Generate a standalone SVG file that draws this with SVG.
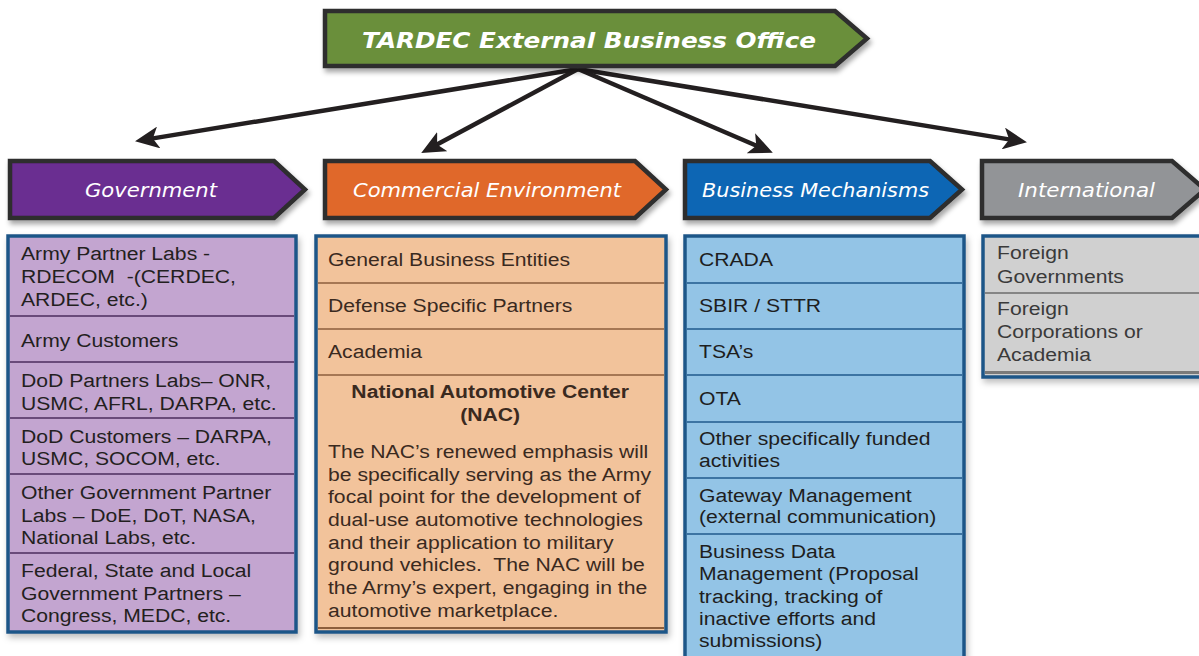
<svg xmlns="http://www.w3.org/2000/svg" width="1199" height="656" viewBox="0 0 1199 656">
<defs>
<filter id="sh" x="-10%" y="-20%" width="130%" height="150%">
<feDropShadow dx="2" dy="4" stdDeviation="2.5" flood-color="#000" flood-opacity="0.35"/>
</filter>
<filter id="sh2" x="-10%" y="-10%" width="130%" height="130%">
<feDropShadow dx="2" dy="4" stdDeviation="3" flood-color="#000" flood-opacity="0.25"/>
</filter>
<marker id="ah" markerUnits="userSpaceOnUse" markerWidth="24" markerHeight="22" refX="12" refY="11" orient="auto">
<path d="M0,0 L24,11 L0,22 L6,11 z" fill="#231f20"/>
</marker>
</defs>
<style>
.ban{stroke:#2d2d2d;stroke-width:4.5;stroke-linejoin:miter}
.bt{font-family:"DejaVu Sans",Verdana,sans-serif;font-style:italic;font-size:19px;fill:#fff}
.tt{font-family:"DejaVu Sans",Verdana,sans-serif;font-style:italic;font-weight:bold;font-size:22px;fill:#fff}
.box{stroke:#1f5788;stroke-width:3.5}
.lt{font-family:"Liberation Sans",Arial,sans-serif;font-size:18px}
.b{font-weight:bold}
.conn{stroke:#231f20;stroke-width:4.5;fill:none;marker-end:url(#ah)}
</style>

<g id="connectors">
<line class="conn" x1="578" y1="69" x2="146.9" y2="139.4"/>
<line class="conn" x1="578" y1="69" x2="431.8" y2="147.3"/>
<line class="conn" x1="578" y1="69" x2="761.8" y2="148"/>
<line class="conn" x1="578" y1="69" x2="1015.1" y2="140.4"/>
</g>

<g id="title">
<polygon class="ban" filter="url(#sh)" fill="#6a8f3b" points="325,11 835,11 867,38.5 835,66 325,66"/>
<text class="tt" x="362" y="48" textLength="454" lengthAdjust="spacingAndGlyphs">TARDEC External Business Office</text>
</g>

<g id="government">
<polygon class="ban" filter="url(#sh)" fill="#6a2d91" points="10,161 274,161 305,189.5 274,218 10,218"/>
<text class="bt" x="85" y="197" textLength="132" lengthAdjust="spacingAndGlyphs">Government</text>
<rect class="box" filter="url(#sh2)" fill="#c3a5d0" x="8" y="236" width="288" height="396"/>
<g stroke="#4b2d5e" stroke-width="1.5">
<line x1="10" y1="316" x2="294" y2="316"/>
<line x1="10" y1="362" x2="294" y2="362"/>
<line x1="10" y1="418" x2="294" y2="418"/>
<line x1="10" y1="474" x2="294" y2="474"/>
<line x1="10" y1="553" x2="294" y2="553"/>
</g>
<g class="lt" fill="#231f20" transform="translate(21,0) scale(1.175,1)">
<text x="0" y="260">Army Partner Labs -</text>
<text x="0" y="283" xml:space="preserve">RDECOM  -(CERDEC,</text>
<text x="0" y="306">ARDEC, etc.)</text>
<text x="0" y="347">Army Customers</text>
<text x="0" y="387">DoD Partners Labs– ONR,</text>
<text x="0" y="410">USMC, AFRL, DARPA, etc.</text>
<text x="0" y="443">DoD Customers – DARPA,</text>
<text x="0" y="465">USMC, SOCOM, etc.</text>
<text x="0" y="499">Other Government Partner</text>
<text x="0" y="522">Labs – DoE, DoT, NASA,</text>
<text x="0" y="544">National Labs, etc.</text>
<text x="0" y="577">Federal, State and Local</text>
<text x="0" y="600">Government Partners –</text>
<text x="0" y="622">Congress, MEDC, etc.</text>
</g>
</g>

<g id="commercial">
<polygon class="ban" filter="url(#sh)" fill="#e0672a" points="325,161 635,161 666,189.5 635,218 325,218"/>
<text class="bt" x="353" y="197" textLength="268" lengthAdjust="spacingAndGlyphs">Commercial Environment</text>
<rect class="box" filter="url(#sh2)" fill="#f2c39b" x="316" y="236" width="350" height="396"/>
<g stroke="#8c5e3c" stroke-width="1.5">
<line x1="318" y1="283" x2="664" y2="283"/>
<line x1="318" y1="329" x2="664" y2="329"/>
<line x1="318" y1="375" x2="664" y2="375"/>
<line x1="318" y1="628" x2="664" y2="628" stroke-width="2"/>
</g>
<g class="lt" fill="#3a2a1f" transform="translate(328,0) scale(1.175,1)">
<text x="0" y="266">General Business Entities</text>
<text x="0" y="312">Defense Specific Partners</text>
<text x="0" y="358">Academia</text>
<text class="b" x="138" y="398" text-anchor="middle">National Automotive Center</text>
<text class="b" x="138" y="421" text-anchor="middle">(NAC)</text>
<text x="0" y="458">The NAC’s renewed emphasis will</text>
<text x="0" y="481">be specifically serving as the Army</text>
<text x="0" y="503">focal point for the development of</text>
<text x="0" y="526">dual-use automotive technologies</text>
<text x="0" y="549">and their application to military</text>
<text x="0" y="571" xml:space="preserve">ground vehicles.  The NAC will be</text>
<text x="0" y="594">the Army’s expert, engaging in the</text>
<text x="0" y="617">automotive marketplace.</text>
</g>
</g>

<g id="business">
<polygon class="ban" filter="url(#sh)" fill="#0d66b4" points="685,161 930,161 962,189.5 930,218 685,218"/>
<text class="bt" x="702" y="197" textLength="227" lengthAdjust="spacingAndGlyphs">Business Mechanisms</text>
<rect class="box" filter="url(#sh2)" fill="#93c4e6" x="685" y="236" width="279" height="440"/>
<g stroke="#1f5a8c" stroke-width="1.5">
<line x1="687" y1="283" x2="962" y2="283"/>
<line x1="687" y1="329" x2="962" y2="329"/>
<line x1="687" y1="375" x2="962" y2="375"/>
<line x1="687" y1="422" x2="962" y2="422"/>
<line x1="687" y1="478" x2="962" y2="478"/>
<line x1="687" y1="534" x2="962" y2="534"/>
</g>
<g class="lt" fill="#1e1e1e" transform="translate(699,0) scale(1.175,1)">
<text x="0" y="266">CRADA</text>
<text x="0" y="312">SBIR / STTR</text>
<text x="0" y="358">TSA’s</text>
<text x="0" y="405">OTA</text>
<text x="0" y="445">Other specifically funded</text>
<text x="0" y="467">activities</text>
<text x="0" y="502">Gateway Management</text>
<text x="0" y="523">(external communication)</text>
<text x="0" y="558">Business Data</text>
<text x="0" y="580">Management (Proposal</text>
<text x="0" y="603">tracking, tracking of</text>
<text x="0" y="625">inactive efforts and</text>
<text x="0" y="647">submissions)</text>
</g>
</g>

<g id="international">
<polygon class="ban" filter="url(#sh)" fill="#929497" points="982,161 1172,161 1205,189.5 1172,218 982,218"/>
<text class="bt" x="1018" y="197" textLength="137" lengthAdjust="spacingAndGlyphs">International</text>
<rect class="box" filter="url(#sh2)" fill="#d0d0d0" x="983" y="236" width="240" height="141"/>
<g stroke="#6d6d6d">
<line x1="985" y1="293" x2="1199" y2="293" stroke-width="1.5"/>
<line x1="985" y1="372.5" x2="1199" y2="372.5" stroke-width="3" stroke="#7a7a7a"/>
</g>
<g class="lt" fill="#3a3a3a" transform="translate(997,0) scale(1.175,1)">
<text x="0" y="259">Foreign</text>
<text x="0" y="283">Governments</text>
<text x="0" y="315">Foreign</text>
<text x="0" y="338">Corporations or</text>
<text x="0" y="361">Academia</text>
</g>
</g>
</svg>
